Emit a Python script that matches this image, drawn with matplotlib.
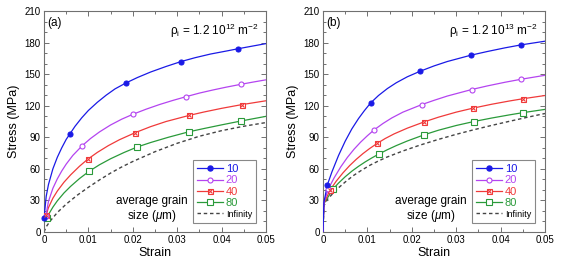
import matplotlib
matplotlib.use("Agg")
import matplotlib.pyplot as plt
from matplotlib.lines import Line2D
from matplotlib.ticker import MultipleLocator

plt.rcParams['font.family'] = ['Liberation Sans', 'DejaVu Sans']
plt.rcParams['mathtext.fontset'] = 'custom'
plt.rcParams['mathtext.rm'] = 'Liberation Sans'
plt.rcParams['mathtext.it'] = 'Liberation Sans:italic'

# ---------------- data: panel (a), rho_i = 1.2e12 ----------------
a_blue_x = [0, 0.0005, 0.001, 0.002, 0.003, 0.004, 0.005, 0.0058, 0.007, 0.0085, 0.010, 0.012, 0.014,
            0.016, 0.0184, 0.021, 0.024, 0.0275, 0.0309, 0.034, 0.0375, 0.041, 0.0438, 0.047, 0.05]
a_blue_y = [13, 34, 45, 60, 71, 80, 88, 93, 100.5, 108.5, 115.5, 123.2, 130,
            136, 141.5, 146.7, 152, 157.3, 162, 165.6, 169.1, 171.9, 174.2, 176.7, 179]
a_purple_x = [0, 0.0004, 0.001, 0.002, 0.003, 0.004, 0.005, 0.0065, 0.0086, 0.0105, 0.0125, 0.015,
              0.0175, 0.0201, 0.023, 0.026, 0.029, 0.032, 0.035, 0.038, 0.041, 0.0443, 0.047, 0.05]
a_purple_y = [12, 15, 29, 41.5, 50.5, 58, 64.5, 72.8, 82, 88.9, 95.1, 101.7,
              107.2, 112, 116.7, 121.1, 125, 128.6, 132, 134.9, 137.6, 140.3, 142.4, 144.6]
a_red_x = [0, 0.0005, 0.001, 0.002, 0.003, 0.0045, 0.006, 0.008, 0.0098, 0.012, 0.0145, 0.017,
           0.0206, 0.024, 0.0275, 0.0327, 0.036, 0.04, 0.0445, 0.05]
a_red_y = [12, 16.5, 23.1, 32.1, 38.9, 47.3, 54.3, 62.5, 69, 75.6, 82.1, 87.7,
           94.5, 100.1, 105, 110.8, 114, 117.5, 121, 124.7]
a_green_x = [0, 0.0006, 0.001, 0.002, 0.003, 0.0045, 0.006, 0.008, 0.0101, 0.0125, 0.015, 0.018,
             0.021, 0.024, 0.028, 0.0326, 0.036, 0.04, 0.0444, 0.05]
a_green_y = [11, 13.5, 16.5, 23.6, 29.6, 37.1, 43.4, 50.8, 57.5, 63.9, 69.6, 75.5,
             80.8, 85, 90, 95.2, 98.3, 101.8, 105.5, 109.9]
a_inf_x = [0, 0.0005, 0.0015, 0.003, 0.005, 0.0075, 0.01, 0.0125, 0.015, 0.0175, 0.02, 0.025,
           0.03, 0.035, 0.04, 0.045, 0.05]
a_inf_y = [0, 5, 11, 18.5, 26.5, 35, 42.5, 49.5, 56, 61.8, 67, 76.3,
           84.3, 91, 96.3, 100.5, 104]

a_blue_mx = [0.0, 0.0058, 0.0184, 0.0309, 0.0438]
a_blue_my = [13, 93, 141.5, 162, 174.2]
a_purple_mx = [0.0004, 0.0086, 0.0201, 0.032, 0.0443]
a_purple_my = [15, 82, 112, 128.6, 140.3]
a_red_mx = [0.0005, 0.0098, 0.0206, 0.0327, 0.0445]
a_red_my = [16.5, 69, 94.5, 110.8, 121]
a_green_mx = [0.0006, 0.0101, 0.021, 0.0326, 0.0444]
a_green_my = [13.5, 57.5, 80.8, 95.2, 105.5]

# ---------------- data: panel (b), rho_i = 1.2e13 ----------------
b_blue_x = [0, 0.0002, 0.001, 0.002, 0.0035, 0.005, 0.0065, 0.008, 0.0093, 0.0107, 0.0125, 0.0145,
            0.0165, 0.019, 0.0219, 0.025, 0.028, 0.0333, 0.037, 0.041, 0.0446, 0.05]
b_blue_y = [0, 28, 45, 57, 72.7, 86.3, 98, 107.8, 115.2, 122.5, 129.7, 136.3,
            141.8, 147.5, 152.8, 157.8, 162, 168, 171.5, 175, 177.8, 181.3]
b_purple_x = [0, 0.0002, 0.0012, 0.0025, 0.004, 0.0055, 0.007, 0.0085, 0.01, 0.0115, 0.0135, 0.0155,
              0.018, 0.0222, 0.025, 0.028, 0.0335, 0.037, 0.041, 0.0447, 0.05]
b_purple_y = [0, 28, 41, 51.4, 61.9, 70.9, 78.7, 85.5, 91.5, 97, 103.1, 108.4,
              113.9, 121, 125.1, 129.2, 135.4, 138.8, 142.3, 145.2, 148.9]
b_red_x = [0, 0.0002, 0.0016, 0.003, 0.0045, 0.006, 0.0075, 0.009, 0.0105, 0.0122, 0.014, 0.016,
           0.019, 0.0227, 0.026, 0.03, 0.0338, 0.038, 0.042, 0.045, 0.05]
b_red_y = [0, 27, 40, 48.4, 56.2, 63.1, 69.1, 74.5, 79.3, 84.2, 88.8, 93.2,
           98.7, 104.5, 109.1, 113.9, 117.7, 121.4, 124.5, 126.6, 129.7]
b_green_x = [0, 0.0002, 0.0023, 0.0035, 0.005, 0.0065, 0.008, 0.0095, 0.011, 0.0125, 0.0145, 0.0165,
             0.019, 0.0228, 0.026, 0.03, 0.034, 0.038, 0.042, 0.045, 0.05]
b_green_y = [0, 27, 41, 46.5, 52.5, 57.8, 62.4, 66.6, 70.4, 73.9, 78.2, 82.1,
             86.5, 92.4, 96.7, 101.2, 105, 108.3, 111.3, 113.4, 116.5]
b_inf_x = [0, 0.0002, 0.001, 0.0023, 0.0035, 0.005, 0.0068, 0.0088, 0.0106, 0.0125, 0.0143, 0.018,
           0.0218, 0.026, 0.03, 0.034, 0.038, 0.042, 0.046, 0.05]
b_inf_y = [0, 25, 31, 37, 42, 47.5, 53.5, 59, 63.5, 67.5, 71, 77,
           82.5, 88, 92.8, 97.2, 101.3, 105.2, 109, 112.6]

b_blue_mx = [0.001, 0.0107, 0.0219, 0.0333, 0.0446]
b_blue_my = [45, 122.5, 152.8, 168, 177.8]
b_purple_mx = [0.0012, 0.0115, 0.0222, 0.0335, 0.0447]
b_purple_my = [41, 97, 121, 135.4, 145.2]
b_red_mx = [0.0016, 0.0122, 0.0227, 0.0338, 0.045]
b_red_my = [40, 84.2, 104.5, 117.7, 126.6]
b_green_mx = [0.0023, 0.0125, 0.0228, 0.034, 0.045]
b_green_my = [41, 73.9, 92.4, 105, 113.4]

grain_labels = ['10', '20', '40', '80', 'Infinity']
panel_labels = ['(a)', '(b)']
rho_exps = ['12', '13']
x_ticks = [0, 0.01, 0.02, 0.03, 0.04, 0.05]
x_ticklabels = ['0', '0.01', '0.02', '0.03', '0.04', '0.05']
y_ticks = [0, 30, 60, 90, 120, 150, 180, 210]

C_BLUE = '#1a1ae6'
C_PURPLE = '#b444f0'
C_RED = '#f03a3a'
C_GREEN = '#2a9a3a'
C_INF = '#444444'
SPINE = '#707070'

fig = plt.figure(figsize=(5.67, 2.68), dpi=100)
axes = [fig.add_axes([44 / 567, 36 / 268, 222 / 567, 221 / 268]),
        fig.add_axes([323 / 567, 36 / 268, 222 / 567, 221 / 268])]

panels = [
    dict(blue=(a_blue_x, a_blue_y, a_blue_mx, a_blue_my),
         purple=(a_purple_x, a_purple_y, a_purple_mx, a_purple_my),
         red=(a_red_x, a_red_y, a_red_mx, a_red_my),
         green=(a_green_x, a_green_y, a_green_mx, a_green_my),
         inf=(a_inf_x, a_inf_y)),
    dict(blue=(b_blue_x, b_blue_y, b_blue_mx, b_blue_my),
         purple=(b_purple_x, b_purple_y, b_purple_mx, b_purple_my),
         red=(b_red_x, b_red_y, b_red_mx, b_red_my),
         green=(b_green_x, b_green_y, b_green_mx, b_green_my),
         inf=(b_inf_x, b_inf_y)),
]

ms = 3.6
mew = 0.8
lw = 0.9
for i, (ax, p) in enumerate(zip(axes, panels)):
    x, y = p['inf']
    ax.plot(x, y, color=C_INF, lw=1.0, ls=(0, (2.5, 2.0)), zorder=2)
    x, y, mx, my = p['green']
    ax.plot(x, y, color=C_GREEN, lw=lw, zorder=3)
    ax.plot(mx, my, ls='none', marker='s', ms=ms + 0.4, mfc='white', mec=C_GREEN, mew=mew, zorder=4, clip_on=False)
    x, y, mx, my = p['red']
    ax.plot(x, y, color=C_RED, lw=lw, zorder=3)
    ax.plot(mx, my, ls='none', marker='s', ms=ms, mfc='white', mec=C_RED, mew=mew, zorder=4, clip_on=False)
    ax.plot(mx, my, ls='none', marker='x', ms=ms - 0.6, mec=C_RED, mew=mew, zorder=5, clip_on=False)
    x, y, mx, my = p['purple']
    ax.plot(x, y, color=C_PURPLE, lw=lw, zorder=3)
    ax.plot(mx, my, ls='none', marker='o', ms=ms, mfc='white', mec=C_PURPLE, mew=mew, zorder=4, clip_on=False)
    x, y, mx, my = p['blue']
    ax.plot(x, y, color=C_BLUE, lw=lw, zorder=3)
    ax.plot(mx, my, ls='none', marker='o', ms=ms, mfc=C_BLUE, mec=C_BLUE, mew=mew, zorder=4, clip_on=False)

    ax.set_xlim(0, 0.05)
    ax.set_ylim(0, 210)
    ax.set_xticks(x_ticks)
    ax.set_xticklabels(x_ticklabels)
    ax.set_yticks(y_ticks)
    ax.xaxis.set_minor_locator(MultipleLocator(0.005))
    ax.yaxis.set_minor_locator(MultipleLocator(10))
    ax.tick_params(which='both', direction='in', top=True, right=True, labelsize=7,
                   color=SPINE, width=0.7, pad=2.5)
    ax.tick_params(which='major', length=3.5)
    ax.tick_params(which='minor', length=2)
    for s in ax.spines.values():
        s.set_color(SPINE)
        s.set_linewidth(0.8)
    ax.set_xlabel('Strain', fontsize=9, labelpad=1)
    ax.set_ylabel('Stress (MPa)', fontsize=9, labelpad=3)

    ax.text(0.015, 0.975, panel_labels[i], transform=ax.transAxes, fontsize=8.5,
            ha='left', va='top')
    ax.text(0.97, 0.95, 'ρ$_\\mathrm{i}$ = 1.2 10$^{' + rho_exps[i] + '}$ m$^{-2}$',
            transform=ax.transAxes, fontsize=8.5, ha='right', va='top')
    ax.text(0.487, 0.102, 'average grain\nsize ($\\mu$m)', transform=ax.transAxes, fontsize=8.5,
            ha='center', va='center', multialignment='center', linespacing=1.05)

    h_blue = Line2D([], [], color=C_BLUE, lw=lw, marker='o', ms=ms, mfc=C_BLUE, mec=C_BLUE)
    h_purple = Line2D([], [], color=C_PURPLE, lw=lw, marker='o', ms=ms, mfc='white', mec=C_PURPLE, mew=mew)
    h_red1 = Line2D([], [], color=C_RED, lw=lw, marker='s', ms=ms, mfc='white', mec=C_RED, mew=mew)
    h_red2 = Line2D([], [], ls='none', marker='x', ms=ms - 0.6, mec=C_RED, mew=mew)
    h_green = Line2D([], [], color=C_GREEN, lw=lw, marker='s', ms=ms + 0.4, mfc='white', mec=C_GREEN, mew=mew)
    h_inf = Line2D([], [], color=C_INF, lw=1.0, ls=(0, (2.5, 2.0)))
    leg = ax.legend([h_blue, h_purple, (h_red1, h_red2), h_green, h_inf], grain_labels,
                    loc='lower right', bbox_to_anchor=(0.955, 0.04), fontsize=8,
                    handlelength=2.3, handletextpad=0.3, labelspacing=0.12,
                    borderpad=0.35, fancybox=False, edgecolor='#888888',
                    framealpha=1, numpoints=1, borderaxespad=0)
    leg.get_frame().set_linewidth(0.8)
    cols = [C_BLUE, C_PURPLE, C_RED, C_GREEN, 'black']
    for t, c in zip(leg.get_texts(), cols):
        t.set_color(c)
    leg.get_texts()[-1].set_fontsize(6.5)

fig.savefig('out.png', dpi=100)
